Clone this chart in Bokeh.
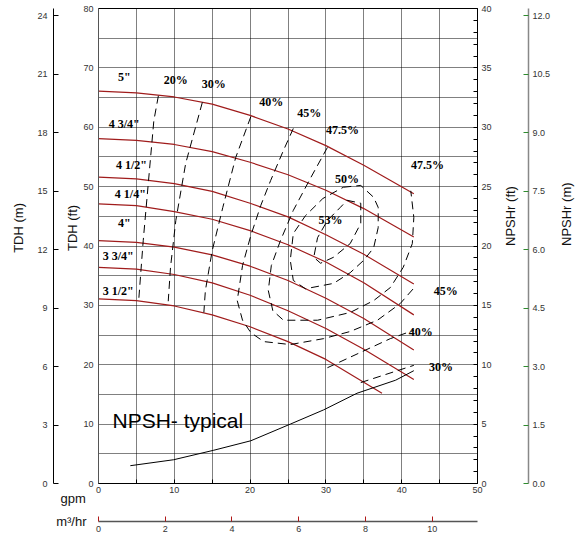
import math
from bokeh.plotting import figure
from bokeh.models import Range1d, LinearAxis, FixedTicker, Label, ColumnDataSource, NumeralTickFormatter
from bokeh.core.properties import value
from bokeh.embed import file_html
from bokeh.resources import INLINE

FT_TO_M = 0.3048
GPM_TO_M3H = 0.2271247

# ---------------- data ----------------
impeller_names = ['5"', '4 3/4"', '4 1/2"', '4 1/4"', '4"', '3 3/4"', '3 1/2"']
flow_full = [0, 5, 10, 15, 20, 25, 30, 35, 41.6]
flow_short = [0, 5, 10, 15, 20, 25, 30, 37.4]
head_5 = [66.1, 65.8, 65.1, 63.9, 62.0, 59.7, 56.9, 53.6, 48.8]
head_4_75 = [58.1, 57.8, 57.1, 55.9, 54.1, 52.0, 49.4, 46.3, 41.5]
head_4_5 = [51.6, 51.3, 50.5, 49.2, 47.2, 44.9, 41.9, 38.6, 33.6]
head_4_25 = [47.1, 46.8, 45.8, 44.5, 42.6, 40.2, 37.3, 33.8, 28.4]
head_4 = [40.9, 40.6, 39.8, 38.5, 36.6, 34.2, 31.2, 27.8, 22.5]
head_3_75 = [36.4, 36.1, 35.2, 33.8, 31.7, 29.1, 26.1, 22.6, 17.5]
head_3_5 = [31.1, 30.8, 29.9, 28.4, 26.4, 23.9, 20.9, 15.2]

eff20_q = [7.9, 7.3, 6.6, 5.9, 5.3]
eff20_h = [65.3, 61.1, 51.0, 40.9, 30.8]
eff30_q = [13.7, 11.5, 10.2, 9.5, 9.2]
eff30_h = [64.2, 53.9, 44.3, 36.4, 30.7]
eff30r_q = [34.6, 41.6]
eff30r_h = [17.0, 19.9]
eff40_q = [20.1, 18.1, 16.4, 15.0, 14.1, 13.9]
eff40_h = [61.8, 54.9, 46.5, 39.2, 32.5, 28.8]
eff40r_q = [30.2, 38.5, 41.6]
eff40r_h = [19.5, 24.4, 25.8]
eff45_q = [25.7, 24.4, 22.7, 21.4, 20.1, 19.0, 18.3, 19.0, 20.1, 21.8, 25.3, 29.7, 33.2, 36.8, 39.8, 41.8]
eff45_h = [59.8, 56.1, 51.0, 46.8, 41.8, 36.7, 30.8, 27.5, 25.4, 23.9, 23.4, 24.4, 25.6, 27.5, 30.3, 33.2]
eff475_q = [30.2, 28.0, 25.7, 24.0, 22.8, 22.4, 23.0, 24.4, 28.9, 33.2, 36.3, 38.5, 40.2, 41.4, 41.6, 41.2]
eff475_h = [56.6, 51.5, 46.0, 40.9, 36.7, 32.5, 29.1, 27.5, 27.5, 28.8, 30.8, 33.0, 36.4, 40.4, 44.8, 49.3]
eff50_q = [32.3, 34.6, 36.3, 36.9, 36.9, 36.3, 35.0, 33.2, 31.0, 27.3, 25.7, 25.3, 25.7, 27.3, 29.6, 32.3]
eff50_h = [49.9, 50.2, 48.2, 46.5, 43.1, 39.7, 37.6, 35.5, 33.7, 32.8, 34.2, 37.6, 42.1, 45.1, 48.0, 49.9]
eff53_q = [32.8, 34.6, 34.6, 33.2, 31.0, 29.3, 28.4, 28.9, 30.2, 31.9, 32.8]
eff53_h = [47.7, 47.2, 43.8, 40.4, 38.1, 37.1, 38.1, 41.4, 44.3, 46.5, 47.7]

npsh_q = [4.2, 9.9, 15.2, 20.1, 25.3, 29.7, 34.1, 39.2, 41.6]
npsh_ft = [1.5, 2.0, 2.8, 3.6, 5.0, 6.2, 7.6, 8.7, 9.5]

gpm_ticks = [0, 10, 20, 30, 40, 50]
ft_ticks = [0, 10, 20, 30, 40, 50, 60, 70, 80]
m_ticks = [0, 3, 6, 9, 12, 15, 18, 21, 24]
npsh_ticks = [0, 5, 10, 15, 20, 25, 30, 35, 40]
npsh_m_ticks = [0, 1.5, 3.0, 4.5, 6.0, 7.5, 9.0, 10.5, 12.0]
m3_ticks = [0, 2, 4, 6, 8, 10]

# ---------------- figure ----------------
RED = "#a01c1c"
FONT = "Liberation Sans"
NB = "\u00a0"

p = figure(width=584, height=539, x_range=Range1d(0, 50), y_range=Range1d(0, 80),
           output_backend="svg", toolbar_location=None,
           min_border_left=98, min_border_right=107, min_border_top=8, min_border_bottom=56)
p.background_fill_color = "white"
p.border_fill_color = "white"
p.outline_line_color = "black"
p.outline_line_width = 1

p.extra_y_ranges = {"m": Range1d(0, 80 * FT_TO_M), "npsh": Range1d(0, 40),
                    "npsh_m": Range1d(0, 40 * FT_TO_M)}
p.extra_x_ranges = {"m3": Range1d(0, 50 * GPM_TO_M3H)}

def style(ax):
    ax.major_label_text_font = FONT
    ax.major_label_text_font_size = "9px"
    ax.major_label_text_color = "#333333"
    ax.axis_label_text_font = FONT
    ax.axis_label_text_font_size = "13px"
    ax.axis_label_text_font_style = "normal"
    ax.axis_label_text_color = "#111111"

def spacer(side, standoff, **kw):
    ax = LinearAxis(ticker=FixedTicker(ticks=[]), axis_line_color=None,
                    major_tick_line_color=None, minor_tick_line_color=None,
                    axis_label=NB, axis_label_text_font_size="1px",
                    axis_label_standoff=standoff, **kw)
    p.add_layout(ax, side)
    return ax

# grid
p.xgrid.ticker = FixedTicker(ticks=[5, 10, 15, 20, 25, 30, 35, 40, 45])
p.ygrid.ticker = FixedTicker(ticks=list(range(5, 80, 5)))
for g in (p.xgrid, p.ygrid):
    g.grid_line_color = "black"
    g.grid_line_dash = "1 1"
    g.grid_line_width = 1

# bottom gpm axis (with "gpm" pushed to the left end of its label line)
xa = p.xaxis[0]
xa.ticker = FixedTicker(ticks=gpm_ticks, minor_ticks=[5, 15, 25, 35, 45])
style(xa)
xa.major_tick_in = 4; xa.major_tick_out = 0
xa.minor_tick_in = 4; xa.minor_tick_out = 0
xa.axis_line_color = "black"
xa.major_label_standoff = 3
xa.axis_label = "gpm" + NB * 119
xa.axis_label_standoff = -5

# left ft axis
ya = p.yaxis[0]
ya.ticker = FixedTicker(ticks=ft_ticks)
style(ya)
ya.major_tick_in = 0; ya.major_tick_out = 0
ya.minor_tick_line_color = None
ya.axis_line_color = "#555555"
ya.major_label_standoff = 5
ya.axis_label = NB * 10 + "TDH (ft)"
ya.axis_label_standoff = 0

spacer("left", 5, y_range_name="m")

# left m axis
ma = LinearAxis(y_range_name="m", ticker=FixedTicker(ticks=m_ticks))
style(ma)
ma.major_tick_in = 5; ma.major_tick_out = 0
ma.minor_tick_line_color = None
ma.axis_line_color = "black"
ma.major_label_standoff = 6
ma.axis_label = NB * 10 + "TDH (m)"
ma.axis_label_standoff = 8
p.add_layout(ma, "left")

has_orient = "axis_label_orientation" in LinearAxis.properties()

# right NPSHr ft axis
na = LinearAxis(y_range_name="npsh",
                ticker=FixedTicker(ticks=npsh_ticks, minor_ticks=[i for i in range(41) if i % 5]))
style(na)
na.major_tick_in = 4; na.major_tick_out = 0
na.minor_tick_in = 4; na.minor_tick_out = 0
na.axis_line_color = "black"
na.major_label_standoff = 4
na.axis_label = "NPSHr (ft)"
na.axis_label_standoff = 16
p.add_layout(na, "right")

# right NPSHr m axis
nma = LinearAxis(y_range_name="npsh_m", ticker=FixedTicker(ticks=npsh_m_ticks),
                 formatter=NumeralTickFormatter(format="0.0"))
style(nma)
nma.major_tick_in = 5; nma.major_tick_out = 0
nma.major_tick_line_color = "#2e8b2e"
nma.minor_tick_line_color = None
nma.axis_line_color = "#888888"
nma.axis_line_width = 1.5
nma.major_label_standoff = 4
nma.axis_label = "NPSHr (m)"
nma.axis_label_standoff = 13
p.add_layout(nma, "right")

if has_orient:
    na.axis_label_orientation = math.pi / 2
    nma.axis_label_orientation = math.pi / 2
    na.axis_label_text_align = "center"
    nma.axis_label_text_align = "center"

spacer("below", 9, x_range_name="m3")

# bottom m3/hr axis
m3a = LinearAxis(x_range_name="m3", ticker=FixedTicker(ticks=m3_ticks))
style(m3a)
m3a.major_tick_in = 5; m3a.major_tick_out = 0
m3a.major_tick_line_color = "#b01818"
m3a.minor_tick_line_color = None
m3a.axis_line_color = "#555555"
m3a.axis_line_width = 1.5
m3a.major_label_standoff = 4
m3a.axis_label = "m\u00b3/hr" + NB * 120
m3a.axis_label_standoff = -21
p.add_layout(m3a, "below")

# ---------------- curves ----------------
heads = [head_5, head_4_75, head_4_5, head_4_25, head_4, head_3_75, head_3_5]
flows = [flow_full] * 6 + [flow_short]
for q, h in zip(flows, heads):
    p.line(q, h, line_color=RED, line_width=1.2)

effs = [(eff20_q, eff20_h), (eff30_q, eff30_h), (eff30r_q, eff30r_h), (eff40_q, eff40_h),
        (eff40r_q, eff40r_h), (eff45_q, eff45_h), (eff475_q, eff475_h), (eff50_q, eff50_h),
        (eff53_q, eff53_h)]
for q, h in effs:
    p.line(q, h, line_color="black", line_dash="8 5", line_width=1)

p.line(npsh_q, npsh_ft, y_range_name="npsh", line_color="black", line_width=1)

# ---------------- in-plot labels ----------------
lab = ColumnDataSource(dict(
    x=[3.4, 3.4, 4.35, 4.2, 3.4, 2.6, 2.6,
       10.2, 15.2, 22.8, 27.8, 32.2, 43.4, 32.8, 30.6, 45.8, 42.5, 45.2],
    y=[68.4, 60.6, 53.6, 48.7, 43.8, 38.4, 32.5,
       67.9, 67.3, 64.2, 62.4, 59.5, 53.6, 51.3, 44.4, 32.5, 25.5, 19.6],
    t=impeller_names + ["20%", "30%", "40%", "45%", "47.5%", "47.5%", "50%", "53%", "45%", "40%", "30%"]))
p.text(x="x", y="y", text="t", source=lab, text_font=value("Liberation Serif"),
       text_font_style="bold", text_font_size="12px", text_align="center",
       text_baseline="middle", text_color="black")

p.add_layout(Label(x=1.85, y=10.55, text="NPSH- typical", text_font=FONT,
                   text_font_size="21px", text_align="left", text_baseline="alphabetic",
                   text_color="black"))

open("out.html", "w").write(file_html(p, INLINE))
